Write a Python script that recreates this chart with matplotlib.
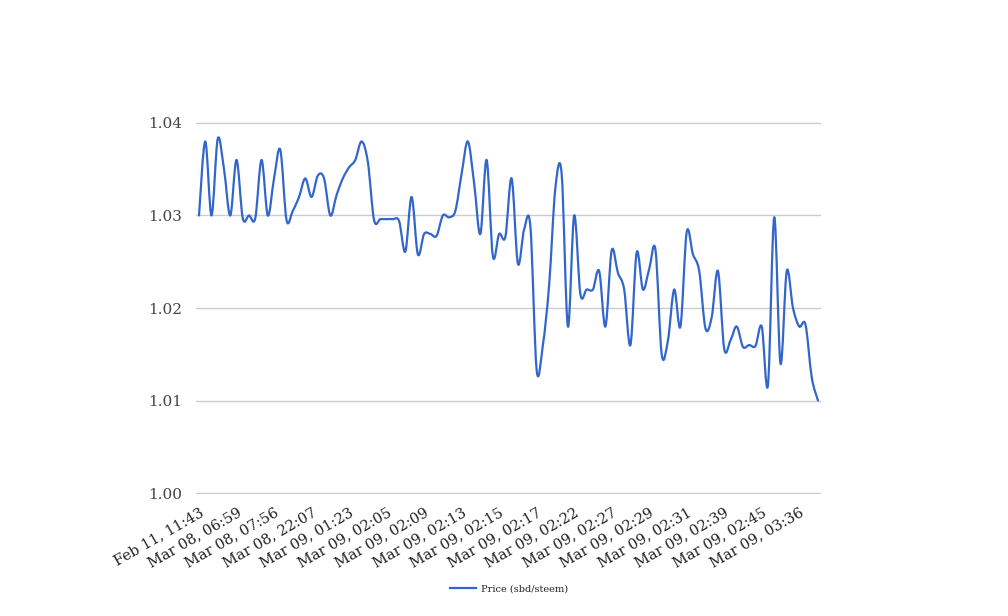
import numpy as np
import matplotlib
matplotlib.use("Agg")
import matplotlib.pyplot as plt
from matplotlib.path import Path
from matplotlib.patches import PathPatch
from matplotlib.lines import Line2D

# price in sbd/steem, one value per trade
prices = [
    1.0300, 1.0380, 1.0300, 1.0383, 1.0350, 1.0300, 1.0360, 1.0297, 1.0300, 1.0297,
    1.0360, 1.0300, 1.0340, 1.0371, 1.0295, 1.0305, 1.0320, 1.0340, 1.0320, 1.0343,
    1.0340, 1.0300, 1.0322, 1.0340, 1.0352, 1.0360, 1.0380, 1.0358, 1.0295, 1.0296,
    1.0296, 1.0296, 1.0294, 1.0261, 1.0320, 1.0258, 1.0280, 1.0280, 1.0278, 1.0300,
    1.0298, 1.0305, 1.0345, 1.0380, 1.0335, 1.0280, 1.0360, 1.0256, 1.0280, 1.0277,
    1.0340, 1.0248, 1.0285, 1.0288, 1.0133, 1.0160, 1.0225, 1.0330, 1.0345, 1.0180,
    1.0300, 1.0215, 1.0220, 1.0220, 1.0240, 1.0180, 1.0262, 1.0238, 1.0220, 1.0160,
    1.0260, 1.0220, 1.0242, 1.0263, 1.0150, 1.0165, 1.0220, 1.0180, 1.0282, 1.0258,
    1.0240, 1.0178, 1.0190, 1.0240, 1.0156, 1.0165, 1.0180, 1.0158, 1.0160, 1.0159,
    1.0180, 1.0117, 1.0298, 1.0140, 1.0240, 1.0200, 1.0180, 1.0182, 1.0125, 1.0100,
]

tick_labels = [
    "Feb 11, 11:43", "Mar 08, 06:59", "Mar 08, 07:56", "Mar 08, 22:07",
    "Mar 09, 01:23", "Mar 09, 02:05", "Mar 09, 02:09", "Mar 09, 02:13",
    "Mar 09, 02:15", "Mar 09, 02:17", "Mar 09, 02:22", "Mar 09, 02:27",
    "Mar 09, 02:29", "Mar 09, 02:31", "Mar 09, 02:39", "Mar 09, 02:45",
    "Mar 09, 03:36",
]
tick_step = 6

y_ticks = [1.00, 1.01, 1.02, 1.03, 1.04]

line_color = "#3366cc"

plt.rcParams['font.family'] = ['DejaVu Serif']

fig = plt.figure(figsize=(10.08, 6.16), dpi=100)
ax = fig.add_axes([196 / 1008, 1 - 494 / 616, 625 / 1008, 372 / 616])

x = np.arange(len(prices), dtype=float)
y = np.array(prices)
n = len(x)

# smooth curve through the points (cubic bezier, catmull-rom style)
verts = [(x[0], y[0])]
codes = [Path.MOVETO]
for i in range(n - 1):
    p0 = max(i - 1, 0)
    p3 = min(i + 2, n - 1)
    c1 = (x[i] + (x[i + 1] - x[p0]) / 6, y[i] + (y[i + 1] - y[p0]) / 6)
    c2 = (x[i + 1] - (x[p3] - x[i]) / 6, y[i + 1] - (y[p3] - y[i]) / 6)
    verts += [c1, c2, (x[i + 1], y[i + 1])]
    codes += [Path.CURVE4] * 3
ax.add_patch(PathPatch(Path(verts, codes), fill=False, edgecolor=line_color,
                       lw=1.6, capstyle="round", joinstyle="round", zorder=3))

ax.set_xlim(-0.48, n - 1 + 0.48)
ax.set_ylim(1.00 - 0.0001, 1.04 + 0.0001)

ax.set_yticks(y_ticks)
ax.set_yticklabels([f"{v:.2f}" for v in y_ticks], fontsize=11, color="#444444")
ax.set_xticks(x[::tick_step][:len(tick_labels)])
ax.set_xticklabels(tick_labels, rotation=30, ha="right", rotation_mode="anchor",
                   fontsize=10.5, color="#222222")

ax.grid(axis="y", color="#cccccc", lw=1)
ax.set_axisbelow(True)
for s in ax.spines.values():
    s.set_visible(False)
ax.tick_params(axis="both", length=0)
ax.tick_params(axis="y", pad=10)
ax.tick_params(axis="x", pad=8)

handle = Line2D([], [], color=line_color, lw=1.6)
fig.legend([handle], ["Price (sbd/steem)"], loc="center",
           bbox_to_anchor=(509 / 1008, 1 - 589 / 616), frameon=False,
           fontsize=7, handlelength=2.6, handletextpad=0.5,
           labelcolor="#222222")

fig.savefig("out.png", dpi=100, facecolor="white")
